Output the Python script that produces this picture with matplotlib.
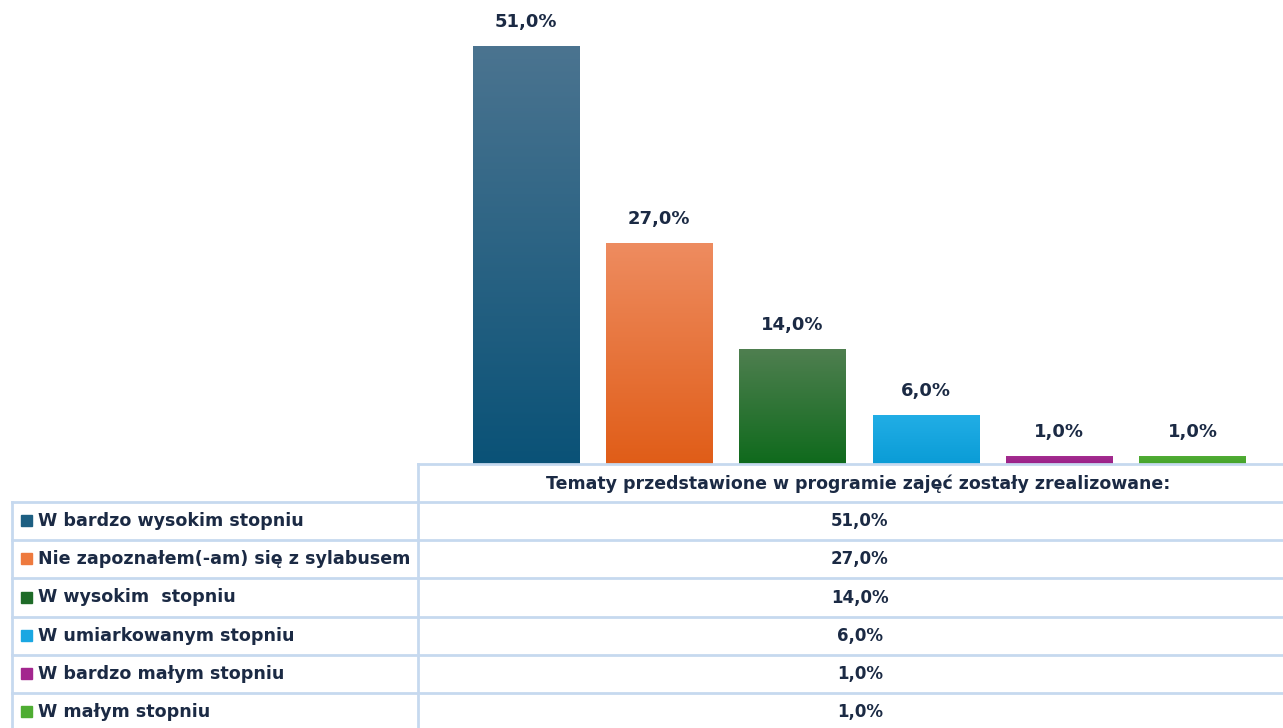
import numpy as np
import matplotlib
matplotlib.use("Agg")
import matplotlib.pyplot as plt
from matplotlib.colors import LinearSegmentedColormap

# Données
naglowek = "Tematy przedstawione w programie zajęć zostały zrealizowane:"
kategorie = ["W bardzo wysokim stopniu", "Nie zapoznałem(-am) się z sylabusem",
             "W wysokim  stopniu", "W umiarkowanym stopniu",
             "W bardzo małym stopniu", "W małym stopniu"]
wartosci = [51.0, 27.0, 14.0, 6.0, 1.0, 1.0]

# Kolory (góra -> dół gradientu)
grad_gora = ["#4b7490", "#ee8c60", "#4f7f50", "#22aee6", "#a52f91", "#52ad36"]
grad_dol = ["#0a5277", "#e05d18", "#0f6a1c", "#0a9cd6", "#9a1f86", "#45a42a"]
kolor_ikony = ["#1d5f82", "#ee7a3e", "#1e6b28", "#1aa7e2", "#a3268e", "#4ead32"]
TEKST = "#1b2a44"
RAMKA = "#c6d9ef"

W, H = 1283, 728
fig = plt.figure(figsize=(W / 100, H / 100), dpi=100)

# -----------------------------
# Wykres słupkowy
# -----------------------------
BASE = 464          # linia bazowa w pikselach
PX_PER = 418 / 51.0  # pikseli na punkt procentowy
ax = fig.add_axes([0, 1 - BASE / H, 1, BASE / H])
x0, krok = 526, 133.3
ax.axis("off")

x = np.arange(len(wartosci))
bary = ax.bar(x, wartosci, width=0.8, color="none", edgecolor="none")
for i, b in enumerate(bary):
    cmap = LinearSegmentedColormap.from_list("g", [grad_dol[i], grad_gora[i]])
    grad = np.linspace(0, 1, 256).reshape(-1, 1)
    im = ax.imshow(grad, cmap=cmap, origin="lower", aspect="auto",
                   extent=[b.get_x(), b.get_x() + b.get_width(), 0, b.get_height()],
                   zorder=2)
    im.set_clip_path(b)
    ax.text(b.get_x() + b.get_width() / 2, b.get_height() + 15 / PX_PER,
            f"{wartosci[i]:.1f}%".replace(".", ","), ha="center", va="bottom",
            fontsize=13, fontweight="bold", color=TEKST)
ax.set_xlim(-x0 / krok, (W - x0) / krok)
ax.set_ylim(0, BASE / PX_PER)

# -----------------------------
# Tabela danych
# -----------------------------
tx = fig.add_axes([0, 0, 1, 1])
tx.set_xlim(0, W)
tx.set_ylim(H, 0)
tx.axis("off")

XL, XM, XR = 12, 418, 1290
wiersze = [BASE, 502, 540, 578, 617, 655, 693, 731]
lw = 2

# linie poziome
tx.plot([XM, XR], [wiersze[0], wiersze[0]], color=RAMKA, lw=lw)
for y in wiersze[1:]:
    tx.plot([XL, XR], [y, y], color=RAMKA, lw=lw)
# linie pionowe
tx.plot([XM, XM], [wiersze[0], H], color=RAMKA, lw=lw)
tx.plot([XL, XL], [wiersze[1], H], color=RAMKA, lw=lw)

tx.text(858, (wiersze[0] + wiersze[1]) / 2 + 1, naglowek,
        ha="center", va="center", fontsize=12.5, fontweight="bold", color=TEKST)

for i, kat in enumerate(kategorie):
    yc = (wiersze[i + 1] + wiersze[i + 2]) / 2
    tx.add_patch(plt.Rectangle((21, yc - 6), 11, 11, color=kolor_ikony[i]))
    tx.text(38, yc, kat, ha="left", va="center", fontsize=12.6,
            fontweight="bold", color=TEKST)
    tx.text(860, yc, f"{wartosci[i]:.1f}%".replace(".", ","), ha="center",
            va="center", fontsize=12, fontweight="bold", color=TEKST)

fig.savefig("out.png", dpi=100)
